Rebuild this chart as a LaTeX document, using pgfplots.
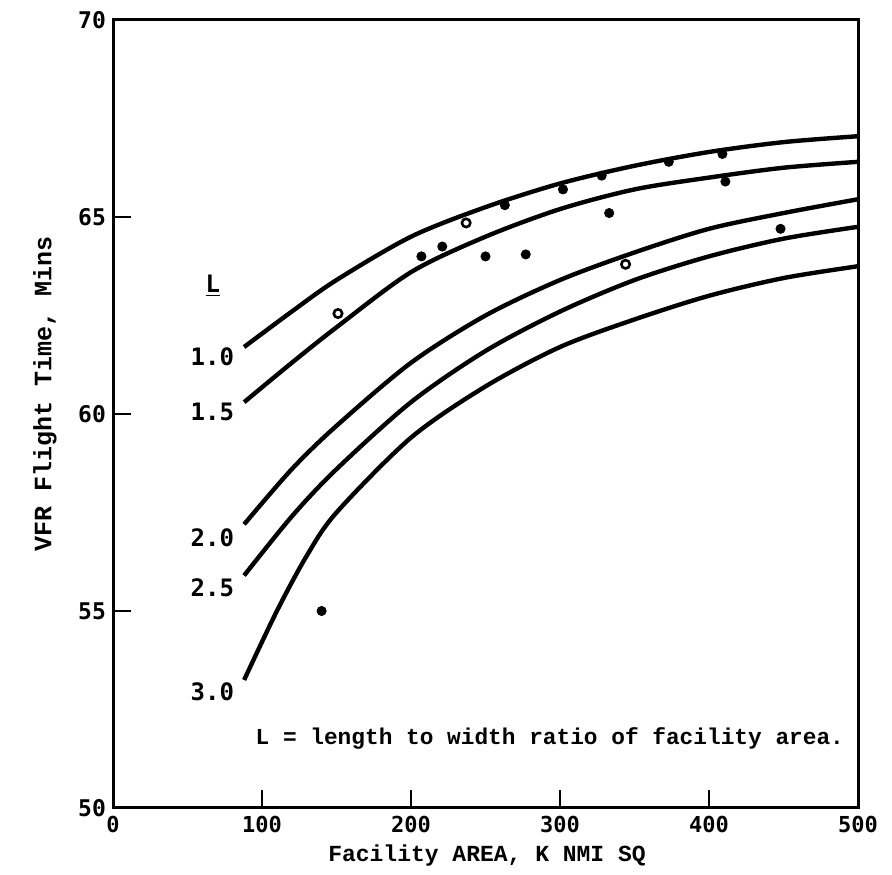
\documentclass[border=0pt]{standalone}
\usepackage{pgfplots}
\pgfplotsset{compat=1.18}
\usepackage{fontspec}
\setmainfont{Liberation Mono}
\newfontfamily\numfont{DejaVu Sans Mono}
\begin{document}
\begin{tikzpicture}
\begin{axis}[
  scale only axis, width=372.5pt, height=394pt,
  xmin=0, xmax=500, ymin=50, ymax=70,
  axis line style={line width=1.5pt},
  xtick={0,100,200,300,400,500}, ytick={50,55,60,65,70},
  tick style={line width=1.2pt, black},
  major tick length=9pt,
  tick align=inside,
  xtick pos=bottom, ytick pos=left,
  /pgf/number format/assume math mode=true,
  xticklabel style={font=\numfont\bfseries\fontsize{11}{12}\selectfont, yshift=-0.5pt},
  yticklabel style={font=\numfont\bfseries\fontsize{11.5}{12}\selectfont},
  xlabel={Facility AREA, K NMI SQ},
  ylabel={VFR Flight Time, Mins},
  every axis x label/.style={at={(axis description cs:0.502,0)}, yshift=-24pt, anchor=center, font=\bfseries\fontsize{11.5}{13}\selectfont},
  every axis y label/.style={at={(axis description cs:0,0.526)}, xshift=-34pt, rotate=90, anchor=center, font=\bfseries\fontsize{12.5}{14}\selectfont},
  clip=false,
]
% L = 1.0
\addplot[line width=2.2pt, smooth] coordinates {(88,61.7) (120,62.6) (150,63.4) (200,64.5) (250,65.25) (300,65.85) (350,66.3) (400,66.65) (450,66.9) (500,67.05)};
% L = 1.5
\addplot[line width=2.2pt, smooth] coordinates {(88,60.3) (120,61.3) (150,62.2) (200,63.6) (250,64.5) (300,65.2) (350,65.7) (400,66.0) (450,66.25) (500,66.4)};
% L = 2.0
\addplot[line width=2.2pt, smooth] coordinates {(88,57.2) (120,58.6) (150,59.7) (200,61.3) (250,62.5) (300,63.4) (350,64.1) (400,64.7) (450,65.1) (500,65.45)};
% L = 2.5
\addplot[line width=2.2pt, smooth] coordinates {(88,55.9) (120,57.4) (150,58.6) (200,60.3) (250,61.6) (300,62.6) (350,63.4) (400,64.0) (450,64.45) (500,64.75)};
% L = 3.0
\addplot[line width=2.2pt, smooth] coordinates {(88,53.25) (110,55.0) (130,56.4) (150,57.5) (200,59.4) (250,60.7) (300,61.7) (350,62.4) (400,63.0) (450,63.45) (500,63.75)};
% filled data points
\addplot[only marks, mark=*, mark size=2.3pt, black] coordinates {
(140,55.0) (207,64.0) (221,64.25) (250,64.0) (263,65.3) (277,64.05) (302,65.7)
(328,66.05) (333,65.1) (373,66.4) (409,66.6) (411,65.9) (448,64.7)};
% open data points
\addplot[only marks, mark=o, mark size=2.1pt, line width=1.3pt, black] coordinates {
(151,62.55) (237,64.85) (344,63.8)};
% curve labels
\begin{scope}[font=\numfont\bfseries\fontsize{12}{14}\selectfont]
\node[anchor=east] at (axis cs:86,61.45) {1.0};
\node[anchor=east] at (axis cs:86,60.05) {1.5};
\node[anchor=east] at (axis cs:86,56.85) {2.0};
\node[anchor=east] at (axis cs:86,55.6) {2.5};
\node[anchor=east] at (axis cs:86,52.95) {3.0};
\node at (axis cs:67,63.25) {\underline{L}};
\end{scope}
\node[anchor=base west, font=\bfseries\fontsize{11.4}{12}\selectfont] at (axis cs:91,51.6) {L = length to width ratio of facility area.};
\end{axis}
\pgfresetboundingbox
\path[use as bounding box] ([xshift=-56.5pt,yshift=-33.5pt]current axis.south west) rectangle ([xshift=17pt,yshift=10pt]current axis.north east);
\end{tikzpicture}
\end{document}
